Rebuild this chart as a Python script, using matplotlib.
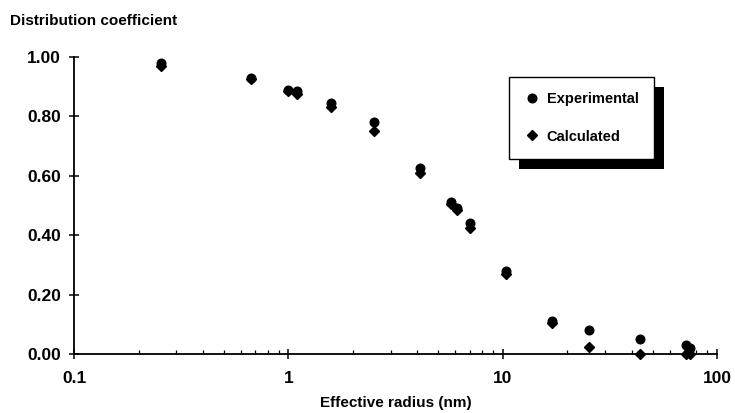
from matplotlib import pyplot as plt
from matplotlib.patches import Rectangle
import numpy as np

# effective radius (nm) and distribution coefficient
radius_nm = [0.255, 0.67, 1.0, 1.1, 1.58, 2.5, 4.1, 5.75, 6.1, 7.0, 10.4, 17.0, 25.3, 43.5, 71.5, 75.0]
experimental = [0.98, 0.93, 0.89, 0.885, 0.845, 0.78, 0.625, 0.51, 0.49, 0.44, 0.28, 0.11, 0.08, 0.05, 0.03, 0.02]
calculated = [0.97, 0.925, 0.885, 0.875, 0.83, 0.75, 0.61, 0.505, 0.485, 0.425, 0.27, 0.105, 0.025, 0.0, 0.0, 0.0]

y_ticks = [0.0, 0.2, 0.4, 0.6, 0.8, 1.0]
x_ticks = [0.1, 1, 10, 100]
x_tick_labels = ["0.1", "1", "10", "100"]

plt.rcParams['font.family'] = ['Liberation Sans', 'DejaVu Sans']

fig = plt.figure(figsize=(7.35, 4.13), dpi=100)
ax = fig.add_axes([0.1007, 0.143, 0.875, 0.719])

ax.plot(radius_nm, calculated, linestyle='none', marker='D', markersize=4.6,
        color='k', label='Calculated', clip_on=False, zorder=3)
ax.plot(radius_nm, experimental, linestyle='none', marker='o', markersize=6.2,
        color='k', label='Experimental', clip_on=False, zorder=3)

ax.set_xscale('log')
ax.set_xlim(0.1, 100)
ax.set_ylim(0, 1.0)
ax.set_xticks(x_ticks)
ax.set_xticklabels(x_tick_labels)
ax.set_yticks(y_ticks)
ax.set_yticklabels([f"{v:.2f}" for v in y_ticks])

for side in ['top', 'right']:
    ax.spines[side].set_visible(False)
for side in ['left', 'bottom']:
    ax.spines[side].set_linewidth(1.3)

ax.tick_params(axis='both', which='major', direction='inout', length=7, width=1.1,
               labelsize=12.5, pad=6)
ax.tick_params(axis='x', which='minor', direction='in', length=3, width=0.9)
ax.tick_params(axis='x', which='major', pad=9)
for lbl in ax.get_xticklabels() + ax.get_yticklabels():
    lbl.set_fontweight('semibold')

fig.text(0.014, 0.94, "Distribution coefficient", fontsize=11, fontweight='bold')
ax.set_xlabel("Effective radius (nm)", fontsize=11, fontweight='bold', labelpad=7)

handles, labels = ax.get_legend_handles_labels()
leg = ax.legend(handles[::-1], labels[::-1], loc='upper left',
                bbox_to_anchor=(0.677, 0.933), frameon=True, fancybox=False,
                edgecolor='k', framealpha=1, borderpad=1.05,
                labelspacing=1.6, handletextpad=0.5, handlelength=1.0,
                borderaxespad=0, prop={'weight': 'semibold', 'size': 10.5})
leg.get_frame().set_linewidth(1.0)
leg.set_zorder(5)

# heavy drop shadow behind the legend box
fig.canvas.draw()
bb = leg.get_window_extent().transformed(ax.transAxes.inverted())
dx = 10 / (ax.bbox.width)
dy = 10 / (ax.bbox.height)
shadow = Rectangle((bb.x0 + dx, bb.y0 - dy), bb.width, bb.height, transform=ax.transAxes,
                   facecolor='k', edgecolor='none', zorder=4, clip_on=False)
ax.add_patch(shadow)

fig.savefig("out.png", dpi=100)
